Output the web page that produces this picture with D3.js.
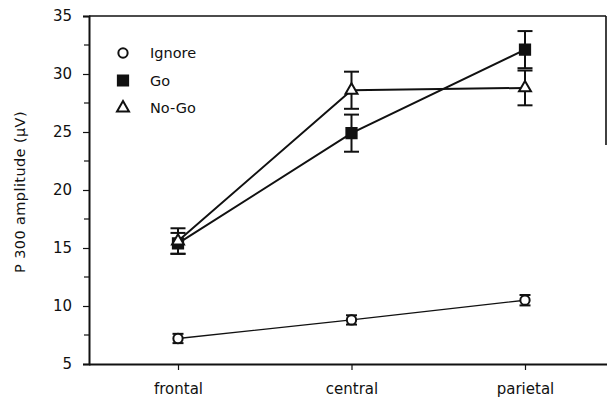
<!DOCTYPE html>
<html>
<head>
<meta charset="utf-8">
<script src="https://cdn.jsdelivr.net/npm/d3@7/dist/d3.min.js"></script>
<style>
  html, body { margin: 0; padding: 0; background: #fff; }
  svg { display: block; }
  text { font-family: "DejaVu Sans", Verdana, sans-serif; fill: #111; }
</style>
</head>
<body>
<svg id="chart" width="607" height="401"></svg>
<script>
// Recording sites along the x axis
const sites = ["frontal", "central", "parietal"];

// Mean P300 amplitude (µV) per condition, and standard errors
const ignoreMean = [7.2, 8.8, 10.5];
const ignoreErr  = [0.4, 0.4, 0.45];
const goMean     = [15.4, 24.9, 32.1];
const goErr      = [0.9, 1.6, 1.6];
const nogoMean   = [15.6, 28.6, 28.8];
const nogoErr    = [1.1, 1.6, 1.5];

const yTicks = [5, 10, 15, 20, 25, 30, 35];
const yMinor = [7.5, 12.5, 17.5, 22.5, 27.5, 32.5];

const svg = d3.select("#chart");
const plotLeft = 89, plotRight = 606, plotTop = 16, plotBottom = 364;

const x = d3.scalePoint().domain(sites).range([178, 525]);
const y = d3.scaleLinear().domain([5, 35]).range([plotBottom, plotTop]);

// Frame: top and partial right border
svg.append("line").attr("x1", plotLeft).attr("x2", plotRight).attr("y1", plotTop).attr("y2", plotTop)
  .attr("stroke", "#111").attr("stroke-width", 1.6);
svg.append("line").attr("x1", plotRight).attr("x2", plotRight).attr("y1", plotTop).attr("y2", 145)
  .attr("stroke", "#111").attr("stroke-width", 1.6);

// Y axis
const yAxis = svg.append("g").attr("transform", `translate(${plotLeft},0)`)
  .call(d3.axisLeft(y).tickValues(yTicks).tickSize(6).tickPadding(11));
yAxis.append("g").selectAll("line").data(yMinor).join("line")
  .attr("x1", -5).attr("x2", 0).attr("y1", d => y(d)).attr("y2", d => y(d))
  .attr("stroke", "#111").attr("stroke-width", 1.2);

// X axis
const xAxis = svg.append("g").attr("transform", `translate(0,${plotBottom})`)
  .call(d3.axisBottom(x).tickSize(6).tickPadding(13));
xAxis.select(".domain").attr("d", `M${plotLeft},0.5H${plotRight + 1}`);

[yAxis, xAxis].forEach(g => {
  g.select(".domain").attr("stroke", "#111").attr("stroke-width", 2);
  g.selectAll(".tick line").attr("stroke", "#111").attr("stroke-width", 1.2);
  g.selectAll(".tick text").style("font-size", "15px").attr("fill", "#111")
    .style("font-family", "'DejaVu Sans', Verdana, sans-serif");
});

svg.append("text")
  .attr("transform", "translate(25,192) rotate(-90)")
  .attr("text-anchor", "middle").style("font-size", "14.5px").style("letter-spacing", "0.4px")
  .text("P 300 amplitude (µV)");

const series = [
  { name: "Ignore", mean: ignoreMean, err: ignoreErr, shape: "circle", lw: 1.4 },
  { name: "Go", mean: goMean, err: goErr, shape: "square", lw: 2 },
  { name: "No-Go", mean: nogoMean, err: nogoErr, shape: "triangle", lw: 2 }
];

const line = d3.line().x((d, i) => x(sites[i])).y(d => y(d));

// Connecting lines
series.forEach(s => {
  svg.append("path").attr("d", line(s.mean)).attr("fill", "none")
    .attr("stroke", "#111").attr("stroke-width", s.lw);
});

// Error bars
series.forEach(s => {
  const g = svg.append("g").attr("stroke", "#111");
  s.mean.forEach((m, i) => {
    const cx = x(sites[i]);
    const cw = s.shape === "circle" ? 5.5 : 7.5;
    g.append("line").attr("x1", cx).attr("x2", cx)
      .attr("y1", y(m - s.err[i])).attr("y2", y(m + s.err[i])).attr("stroke-width", 2);
    [m - s.err[i], m + s.err[i]].forEach(v => {
      g.append("line").attr("x1", cx - cw).attr("x2", cx + cw)
        .attr("y1", y(v)).attr("y2", y(v)).attr("stroke-width", 2);
    });
  });
});

// Markers
const sym = {
  circle: d3.symbol().type(d3.symbolCircle).size(68),
  square: d3.symbol().type(d3.symbolSquare).size(105),
  triangle: d3.symbol().type(d3.symbolTriangle).size(62)
};
function marker(g, shape) {
  g.append("path").attr("d", sym[shape]())
    .attr("fill", shape === "square" ? "#111" : "#fff")
    .attr("stroke", "#111").attr("stroke-width", 2);
}
series.forEach(s => {
  s.mean.forEach((m, i) => {
    const g = svg.append("g").attr("transform", `translate(${x(sites[i])},${y(m)})`);
    marker(g, s.shape);
  });
});

// Legend
const legend = svg.append("g");
series.forEach((s, i) => {
  const ly = 53 + i * 27.5;
  const g = legend.append("g").attr("transform", `translate(123,${ly})`);
  marker(g, s.shape);
  legend.append("text").attr("x", 150).attr("y", ly + 5).style("font-size", "14.5px").text(s.name);
});
</script>
</body>
</html>
